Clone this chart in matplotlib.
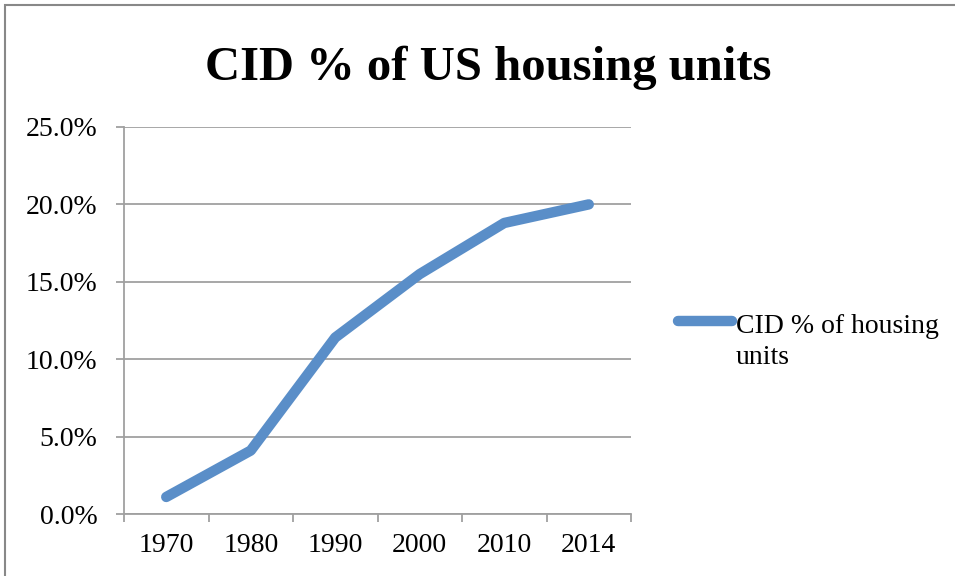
import matplotlib.pyplot as plt
from matplotlib.lines import Line2D
from matplotlib.patches import Rectangle
from matplotlib.ticker import FixedLocator, FuncFormatter

plt.rcParams['font.family'] = ['Liberation Serif', 'DejaVu Serif']

years = ['1970', '1980', '1990', '2000', '2010', '2014']
cid_pct = [1.1, 4.1, 11.4, 15.5, 18.8, 20.0]
series_label = 'CID % of housing\nunits'
title = 'CID % of US housing units'

blue = '#5A8EC8'
grey = '#A0A0A0'

fig = plt.figure(figsize=(9.55, 5.76), dpi=100)
ax = fig.add_axes([124 / 955, 1 - 514 / 576, (631 - 124) / 955, (514 - 127) / 576])

x = list(range(len(years)))
ax.plot(x, cid_pct, color=blue, lw=7.5, solid_capstyle='round', solid_joinstyle='round')

ax.set_xlim(-0.5, len(years) - 0.5)
ax.set_ylim(0, 25)

# y axis
ax.set_yticks([0, 5, 10, 15, 20, 25])
ax.yaxis.set_major_formatter(FuncFormatter(lambda v, p: f'{v:.1f}%'))
ax.tick_params(axis='y', length=6, width=1.3, color=grey, pad=13, labelsize=20)
ax.grid(axis='y', color=grey, lw=1.3)
ax.set_axisbelow(True)

# x axis: ticks at category edges, labels at centers
ax.xaxis.set_major_locator(FixedLocator([i - 0.5 for i in range(len(years) + 1)]))
ax.xaxis.set_major_formatter(FuncFormatter(lambda v, p: ''))
ax.xaxis.set_minor_locator(FixedLocator(x))
ax.set_xticklabels(years, minor=True)
ax.tick_params(axis='x', which='major', length=6, width=1.3, color=grey)
ax.tick_params(axis='x', which='minor', length=0, pad=14, labelsize=20)

for s in ['top', 'right']:
    ax.spines[s].set_visible(False)
for s in ['left', 'bottom']:
    ax.spines[s].set_color(grey)
    ax.spines[s].set_linewidth(1.3)

fig.text(488 / 955, 1 - 80 / 576, title, ha='center', va='baseline',
         fontsize=35, fontweight='bold')

# legend
fig.add_artist(Line2D([678 / 955, 732 / 955], [1 - 321 / 576] * 2, color=blue, lw=7.5,
                      solid_capstyle='round'))
fig.text(736 / 955, 1 - 314 / 576, series_label, ha='left', va='top', fontsize=20,
         linespacing=1.3)

# page frame
fig.add_artist(Rectangle((5 / 955, -0.05), 1.1, 1.05 - 5 / 576, transform=fig.transFigure,
                         fill=False, edgecolor='#888888', lw=1.5))

fig.savefig('out.png', dpi=100)
